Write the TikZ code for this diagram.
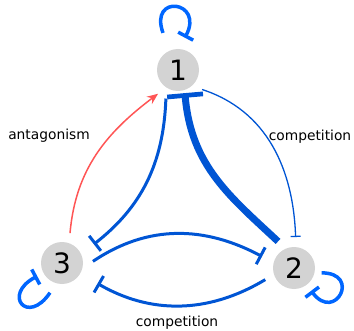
\documentclass[tikz,border=0pt]{standalone}
\usepackage{fontspec}
\setmainfont{DejaVu Sans}
\usetikzlibrary{arrows.meta}

\definecolor{nodegray}{RGB}{211,211,211}
\definecolor{inhblue}{RGB}{0,85,212}
\definecolor{loopblue}{RGB}{0,102,255}
\definecolor{antred}{RGB}{255,85,85}

\begin{document}
\begin{tikzpicture}[x=1pt,y=1pt,
  species/.style={circle,fill=nodegray,minimum size=42pt,inner sep=0pt,outer sep=10pt,font=\fontsize{28}{28}\selectfont},
  lbl/.style={anchor=base,font=\fontsize{13.8}{16}\selectfont},
  thinbar/.style={draw=inhblue,line width=1.3pt,-{Bar[width=10pt,line width=1.3pt]}},
  midbar/.style={draw=inhblue,line width=3pt,-{Bar[width=19pt,line width=3pt]}},
  thickbar/.style={draw=inhblue,line width=7pt,-{Bar[width=36pt,line width=4.7pt]}},
  selfbar/.style={draw=loopblue,line width=3.5pt,-{Bar[width=17pt,line width=3.5pt]}},
  antag/.style={draw=antred,line width=1.5pt,-{Stealth[length=11pt,width=9pt]}}]
\useasboundingbox (0,0) rectangle (354,330);
\node[species] (n1) at (178,260) {1};
\node[species] (n2) at (294,62) {2};
\node[species] (n3) at (62,67) {3};

\path (n3.75) edge[antag,out=85,in=217] (n1.230);
\path (n1.-39) edge[thinbar,out=-18,in=92] (n2.87);
\path (n1.-113) edge[midbar,out=-92,in=38,shorten >=6pt] (n3.29);
\path (n2.121) edge[thickbar,out=137,in=-85,shorten >=-7pt] (n1.-76);
\path (n3.3) edge[midbar,out=34,in=152,shorten >=3pt] (n2.161);
\path (n2.202) edge[midbar,out=211,in=-30,shorten >=10pt] (n3.-30);

\draw[selfbar] ([shift={(112:40)}]n1.center) .. controls +(110:42) and +(62:42) .. ([shift={(78:33)}]n1.center);
\draw[selfbar] ([shift={(-10:28)}]n2.center) .. controls +(0:40) and +(-53:40) .. ([shift={(-53:28.5)}]n2.center);
\draw[selfbar] ([shift={(248:32)}]n3.center) .. controls +(236:40) and +(208:40) .. ([shift={(208:28)}]n3.center);

\node[lbl] (ant) at (49,190) {antagonism};
\node[lbl] (comp12) at (310,189) {competition};
\node[lbl] (comp23) at (177,4) {competition};
\end{tikzpicture}
\end{document}
